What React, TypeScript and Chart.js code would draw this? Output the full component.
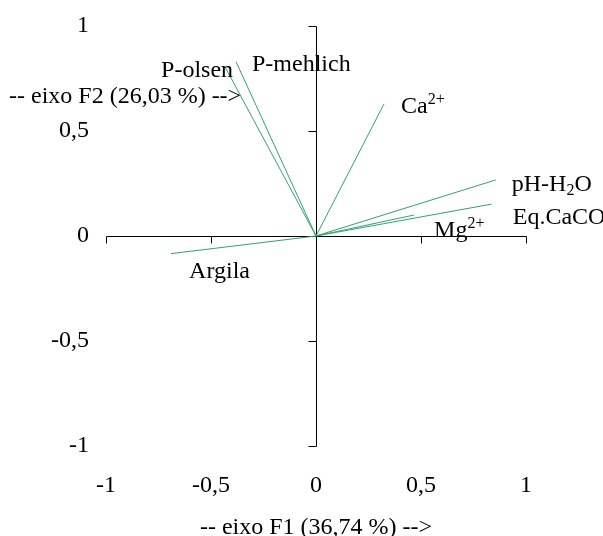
import React, { useEffect, useRef } from 'react';
import { Chart, registerables } from 'chart.js';

Chart.register(...registerables);

// ---- data ----
const variables = ['P-olsen', 'P-mehlich', 'Ca2+', 'pH-H2O', 'Eq.CaCO3', 'Mg2+', 'Argila'];
const f1Loadings = [-0.433, -0.381, 0.324, 0.856, 0.837, 0.467, -0.69];
const f2Loadings = [0.805, 0.83, 0.629, 0.267, 0.152, 0.1, -0.084];
const tickValues = [-1, -0.5, 0, 0.5, 1];
const xTickLabels = ['-1', '-0,5', '0', '0,5', '1'];
const yTickLabels = ['-1', '-0,5', '0', '0,5', '1'];
const xTitle = '-- eixo F1 (36,74 %) -->';
const yTitle = '-- eixo F2 (26,03 %) -->';

type Part = [string, 'n' | 'sup' | 'sub'];
const labelParts: Part[][] = [
  [['P-olsen', 'n']],
  [['P-mehlich', 'n']],
  [['Ca', 'n'], ['2+', 'sup']],
  [['pH-H', 'n'], ['2', 'sub'], ['O', 'n']],
  [['Eq.CaCO', 'n'], ['3', 'sub']],
  [['Mg', 'n'], ['2+', 'sup']],
  [['Argila', 'n']],
];

// ---- styling / placement ----
const FONT = "'Liberation Serif', 'Times New Roman', serif";
const LINE_COLOR = '#31a36c';
const labelOffsets: [number, number][] = [
  [-64, 10],
  [16, 9],
  [17, 9],
  [16, 11],
  [21, 20],
  [20, 22],
  [18, 24],
];

const drawRich = (ctx: CanvasRenderingContext2D, parts: Part[], x: number, y: number) => {
  let cx = x;
  for (const [text, kind] of parts) {
    if (kind === 'n') {
      ctx.font = `24px ${FONT}`;
      ctx.fillText(text, cx, y);
    } else {
      ctx.font = `16px ${FONT}`;
      ctx.fillText(text, cx, kind === 'sup' ? y - 9 : y + 4);
    }
    cx += ctx.measureText(text).width;
  }
};

const crossAxesPlugin = {
  id: 'crossAxes',
  beforeDatasetsDraw(chart: any) {
    const { ctx, scales } = chart;
    const xs = scales.x;
    const ys = scales.y;
    const x0 = Math.round(xs.getPixelForValue(0)) + 0.5;
    const y0 = Math.round(ys.getPixelForValue(0)) + 0.5;
    ctx.save();
    ctx.strokeStyle = '#000';
    ctx.lineWidth = 1;
    ctx.beginPath();
    ctx.moveTo(Math.round(xs.getPixelForValue(-1)) + 0.5, y0);
    ctx.lineTo(Math.round(xs.getPixelForValue(1)) + 0.5, y0);
    ctx.moveTo(x0, Math.round(ys.getPixelForValue(1)) + 0.5);
    ctx.lineTo(x0, Math.round(ys.getPixelForValue(-1)) + 0.5);
    for (const v of tickValues) {
      const px = Math.round(xs.getPixelForValue(v)) + 0.5;
      ctx.moveTo(px, y0);
      ctx.lineTo(px, y0 + 7);
      const py = Math.round(ys.getPixelForValue(v)) + 0.5;
      ctx.moveTo(x0, py);
      ctx.lineTo(x0 - 8, py);
    }
    ctx.stroke();
    ctx.restore();
  },
  afterDatasetsDraw(chart: any) {
    const { ctx, scales } = chart;
    ctx.save();
    ctx.fillStyle = '#000';
    ctx.textAlign = 'left';
    ctx.textBaseline = 'alphabetic';
    variables.forEach((_, i) => {
      const px = scales.x.getPixelForValue(f1Loadings[i]) + labelOffsets[i][0];
      const py = scales.y.getPixelForValue(f2Loadings[i]) + labelOffsets[i][1];
      drawRich(ctx, labelParts[i], px, py);
    });
    ctx.font = `24px ${FONT}`;
    ctx.fillText(yTitle, 9, 103);
    ctx.restore();
  },
};

export default function App() {
  const ref = useRef<HTMLCanvasElement | null>(null);

  useEffect(() => {
    if (!ref.current) return;
    const chart = new Chart(ref.current, {
      type: 'scatter',
      data: {
        datasets: variables.map((name, i) => ({
          label: name,
          data: [
            { x: 0, y: 0 },
            { x: f1Loadings[i], y: f2Loadings[i] },
          ],
          showLine: true,
          borderColor: LINE_COLOR,
          backgroundColor: LINE_COLOR,
          borderWidth: 1,
          pointRadius: 0,
          pointHoverRadius: 0,
        })),
      },
      options: {
        animation: false,
        responsive: false,
        devicePixelRatio: 1,
        layout: { padding: { top: 26, right: 77, bottom: 0, left: 0 } },
        plugins: {
          legend: { display: false },
          tooltip: { enabled: false },
        },
        scales: {
          x: {
            type: 'linear',
            position: 'bottom',
            min: -1,
            max: 1,
            grid: { display: false, drawTicks: false },
            border: { display: false },
            afterFit: (s: any) => {
              s.height = 90;
              s.paddingLeft = 0;
              s.paddingRight = 0;
            },
            ticks: {
              stepSize: 0.5,
              padding: 25,
              color: '#000',
              font: { family: FONT, size: 24 },
              maxRotation: 0,
              callback: (v: any) => {
                const i = tickValues.indexOf(Number(v));
                return i >= 0 ? xTickLabels[i] : '';
              },
            },
            title: {
              display: true,
              text: xTitle,
              color: '#000',
              font: { family: FONT, size: 24 },
              padding: { top: 0, bottom: -6 },
            },
          },
          y: {
            type: 'linear',
            position: 'left',
            min: -1,
            max: 1,
            grid: { display: false, drawTicks: false },
            border: { display: false },
            afterFit: (s: any) => {
              s.width = 106;
              s.paddingTop = 0;
              s.paddingBottom = 0;
            },
            ticks: {
              stepSize: 0.5,
              padding: 17,
              color: '#000',
              font: { family: FONT, size: 24 },
              callback: (v: any) => {
                const i = tickValues.indexOf(Number(v));
                return i >= 0 ? yTickLabels[i] : '';
              },
            },
          },
        },
      },
      plugins: [crossAxesPlugin],
    });
    return () => chart.destroy();
  }, []);

  return (
    <div style={{ position: 'absolute', left: 0, top: 0, width: 603, height: 536, background: '#fff' }}>
      <canvas ref={ref} width={603} height={536} style={{ display: 'block', width: 603, height: 536 }} />
    </div>
  );
}
